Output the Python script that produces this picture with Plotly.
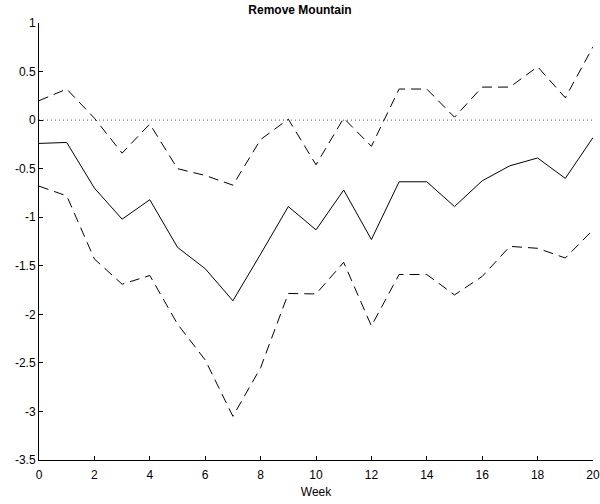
import plotly.graph_objects as go

weeks = list(range(21))
center = [-0.24, -0.23, -0.70, -1.02, -0.82, -1.31, -1.53, -1.86, -1.38, -0.89, -1.13,
          -0.72, -1.23, -0.635, -0.635, -0.89, -0.625, -0.47, -0.39, -0.60, -0.18]
upper = [0.20, 0.32, 0.02, -0.34, -0.04, -0.50, -0.57, -0.67, -0.20, 0.01, -0.46,
         0.02, -0.27, 0.32, 0.32, 0.03, 0.34, 0.34, 0.55, 0.23, 0.755]
lower = [-0.68, -0.78, -1.43, -1.69, -1.60, -2.10, -2.47, -3.05, -2.55, -1.785, -1.79,
         -1.465, -2.12, -1.59, -1.59, -1.80, -1.61, -1.30, -1.32, -1.42, -1.13]
zero_line = [0.0] * 21

x_ticks = [0, 2, 4, 6, 8, 10, 12, 14, 16, 18, 20]
y_ticks = [1, 0.5, 0, -0.5, -1, -1.5, -2, -2.5, -3, -3.5]
y_labels = ["1", "0.5", "0", "-0.5", "-1", "-1.5", "-2", "-2.5", "-3", "-3.5"]

fig = go.Figure()
fig.add_trace(go.Scatter(x=weeks, y=zero_line, mode="lines",
                         line=dict(color="#555555", width=1, dash="1px,3px"),
                         showlegend=False, hoverinfo="skip"))
fig.add_trace(go.Scatter(x=weeks, y=upper, mode="lines",
                         line=dict(color="black", width=1, dash="10px,6px"), showlegend=False))
fig.add_trace(go.Scatter(x=weeks, y=lower, mode="lines",
                         line=dict(color="black", width=1, dash="10px,6px"), showlegend=False))
fig.add_trace(go.Scatter(x=weeks, y=center, mode="lines",
                         line=dict(color="black", width=1), showlegend=False))

font_family = "Liberation Sans, Arial, sans-serif"
fig.update_layout(
    width=600, height=504,
    margin=dict(l=39, r=7, t=23, b=44),
    paper_bgcolor="white", plot_bgcolor="white",
    font=dict(family=font_family, size=11, color="black"),
    title=dict(text="<b>Remove Mountain</b>", x=0.5, xanchor="center", y=0.98, yanchor="middle",
               font=dict(family=font_family, size=12, color="black")),
    xaxis=dict(range=[0, 20], tickvals=x_ticks, ticktext=[str(v) for v in x_ticks],
               showgrid=False, zeroline=False, showline=True, linecolor="black", linewidth=1,
               ticks="inside", ticklen=4, tickcolor="black", tickwidth=1, automargin=False,
               ticklabelstandoff=4,
               title=dict(text="Week", standoff=6, font=dict(size=12)),
               tickfont=dict(size=12)),
    yaxis=dict(range=[-3.5, 1], tickvals=y_ticks, ticktext=y_labels,
               showgrid=False, zeroline=False, showline=True, linecolor="black", linewidth=1,
               ticks="inside", ticklen=4, tickcolor="black", tickwidth=1, automargin=False,
               tickfont=dict(size=12)),
)

fig.write_html("out.html")
